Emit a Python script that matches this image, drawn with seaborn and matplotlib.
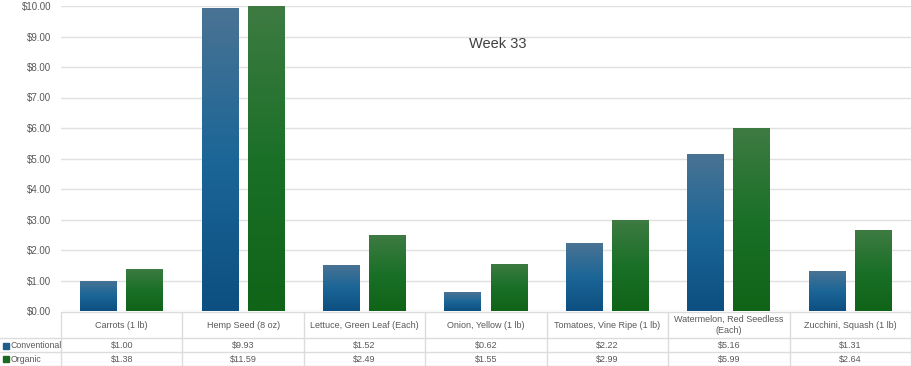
import matplotlib
matplotlib.use("Agg")
import matplotlib.pyplot as plt
import numpy as np
import pandas as pd
import seaborn as sns
from matplotlib.colors import LinearSegmentedColormap

# Data
items = ['Carrots (1 lb)', 'Hemp Seed (8 oz)', 'Lettuce, Green Leaf (Each)',
         'Onion, Yellow (1 lb)', 'Tomatoes, Vine Ripe (1 lb)',
         'Watermelon, Red Seedless\n(Each)', 'Zucchini, Squash (1 lb)']
conventional = [1.00, 9.93, 1.52, 0.62, 2.22, 5.16, 1.31]
organic = [1.38, 11.59, 2.49, 1.55, 2.99, 5.99, 2.64]
series = ['Conventional', 'Organic']

df = pd.DataFrame({
    'item': items * 2,
    'type': ['Conventional'] * len(items) + ['Organic'] * len(items),
    'price': conventional + organic,
})

sns.set_style("white")
plt.rcParams['font.family'] = ['Liberation Sans', 'DejaVu Sans']

W, H = 912, 366
fig = plt.figure(figsize=(W / 100, H / 100), dpi=100)
left, right, top, bottom = 61, 911, 6, 311
ax = fig.add_axes([left / W, 1 - bottom / H, (right - left) / W, (bottom - top) / H])

sns.barplot(data=df, x='item', y='price', hue='type', order=items, hue_order=series,
            width=0.76, gap=0.2, ax=ax, legend=False)

# gradient fill for each bar, lighter at the top
cmaps = {
    'Conventional': LinearSegmentedColormap.from_list('c', ['#0c4f80', '#1b6697', '#4a7394']),
    'Organic': LinearSegmentedColormap.from_list('o', ['#0f6418', '#1b7028', '#3e7b42']),
}
grad = np.linspace(0, 1, 256).reshape(-1, 1)
n = len(items)
for i, p in enumerate(ax.patches[:2 * n]):
    name = series[i // n]
    x0, y0 = p.get_x(), p.get_y()
    w, h = p.get_width(), p.get_height()
    p.set_facecolor('none')
    p.set_edgecolor('none')
    im = ax.imshow(grad, extent=[x0, x0 + w, y0, min(y0 + h, 10)], origin='lower',
                   aspect='auto', cmap=cmaps[name], zorder=2)
    im.set_clip_path(p)

ax.set_xlim(-0.5, n - 0.5)
ax.set_ylim(0, 10)
ax.set_yticks(range(0, 11))
ax.set_yticklabels([f'${v}.00' for v in range(0, 11)])
ax.tick_params(axis='y', length=0, pad=7, labelsize=7, labelcolor='#595959')
ax.set_xticks([])
ax.set_xlabel('')
ax.set_ylabel('')
ax.grid(axis='y', color='#e0e0e0', linewidth=1)
ax.set_axisbelow(True)
for s in ax.spines.values():
    s.set_visible(False)

ax.text((498 - left) / (right - left), 10 - (44 - top) / 30.5, 'Week 33',
        transform=ax.get_yaxis_transform(), ha='center', va='center',
        fontsize=10.5, color='#404040')

# Data table below the plot area
tab = fig.add_axes([0, 0, 1, 1 - bottom / H])
tab.set_xlim(0, W)
tab.set_ylim(H, bottom)
tab.axis('off')
lc = '#dcdcdc'
rows = [312, 338, 352, 365.5]
tab.plot([left, W], [rows[0]] * 2, color=lc, lw=1)
for y in rows[1:]:
    tab.plot([0, W], [y, y], color=lc, lw=1)
colw = (right - left) / n
for k in range(n + 1):
    x = left + k * colw
    tab.plot([x, x], [rows[0], H], color=lc, lw=1)

for k, name in enumerate(items):
    cx = left + (k + 0.5) * colw
    tab.text(cx, (rows[0] + rows[1]) / 2, name, ha='center', va='center',
             fontsize=6.5, color='#595959', linespacing=1.3)
    tab.text(cx, (rows[1] + rows[2]) / 2 + 0.5, f'${conventional[k]:.2f}', ha='center',
             va='center', fontsize=6.5, color='#595959')
    tab.text(cx, (rows[2] + rows[3]) / 2 + 0.5, f'${organic[k]:.2f}', ha='center',
             va='center', fontsize=6.5, color='#595959')

key_colors = ['#1d5f8a', '#1b6a22']
for j, name in enumerate(series):
    yc = (rows[1 + j] + rows[2 + j]) / 2 + 0.5
    tab.add_patch(plt.Rectangle((3, yc - 3), 6, 6, color=key_colors[j]))
    tab.text(11, yc, name, ha='left', va='center', fontsize=6.3, color='#595959')

fig.savefig('out.png', dpi=100)
